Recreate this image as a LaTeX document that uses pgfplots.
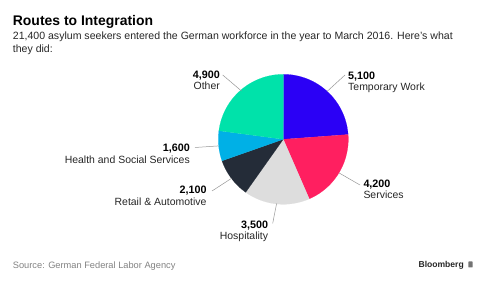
\documentclass[border=0pt]{standalone}
\usepackage{pgfplots}
\pgfplotsset{compat=1.18}
\usepackage{fontspec}
\setmainfont{Liberation Sans}
\definecolor{cTemp}{RGB}{43,0,245}
\definecolor{cServ}{RGB}{255,31,96}
\definecolor{cHosp}{RGB}{221,221,221}
\definecolor{cRet}{RGB}{36,44,56}
\definecolor{cHealth}{RGB}{0,176,230}
\definecolor{cOther}{RGB}{0,226,170}
\definecolor{leader}{RGB}{150,150,150}
\definecolor{srcgray}{RGB}{130,130,130}
\begin{document}
\begin{tikzpicture}
% values (clockwise from 12 o'clock)
\def\vTemp{5100}\def\vServ{4200}\def\vHosp{3500}\def\vRet{2100}\def\vHealth{1600}\def\vOther{4900}
\pgfmathsetmacro\tot{(\vTemp+\vServ+\vHosp)/100+(\vRet+\vHealth+\vOther)/100}
\pgfmathsetmacro\aA{90}
\pgfmathsetmacro\aB{\aA-(\vTemp/100)/\tot*360}
\pgfmathsetmacro\aC{\aB-(\vServ/100)/\tot*360}
\pgfmathsetmacro\aD{\aC-(\vHosp/100)/\tot*360}
\pgfmathsetmacro\aE{\aD-(\vRet/100)/\tot*360}
\pgfmathsetmacro\aF{\aE-(\vHealth/100)/\tot*360}
\pgfmathsetmacro\aG{\aF-(\vOther/100)/\tot*360}
\def\cx{283.3}\def\cy{143.7}\def\r{65}
\path[use as bounding box] (0,0) rectangle (488bp,283bp);
\begin{axis}[at={(0,0)},anchor=south west, width=488bp, height=283bp, scale only axis,
  xmin=0,xmax=488,ymin=0,ymax=283, hide axis, clip=false]
\addplot[fill=cTemp, draw=cTemp, line width=0.1pt, domain=\aB:\aA, samples=60, variable=\t] ({\cx+\r*cos(\t)},{\cy+\r*sin(\t)}) -- (axis cs:\cx,\cy) -- cycle;
\addplot[fill=cServ, draw=cServ, line width=0.1pt, domain=\aC:\aB, samples=60, variable=\t] ({\cx+\r*cos(\t)},{\cy+\r*sin(\t)}) -- (axis cs:\cx,\cy) -- cycle;
\addplot[fill=cHosp, draw=cHosp, line width=0.1pt, domain=\aD:\aC, samples=60, variable=\t] ({\cx+\r*cos(\t)},{\cy+\r*sin(\t)}) -- (axis cs:\cx,\cy) -- cycle;
\addplot[fill=cRet, draw=cRet, line width=0.1pt, domain=\aE:\aD, samples=60, variable=\t] ({\cx+\r*cos(\t)},{\cy+\r*sin(\t)}) -- (axis cs:\cx,\cy) -- cycle;
\addplot[fill=cHealth, draw=cHealth, line width=0.1pt, domain=\aF:\aE, samples=60, variable=\t] ({\cx+\r*cos(\t)},{\cy+\r*sin(\t)}) -- (axis cs:\cx,\cy) -- cycle;
\addplot[fill=cOther, draw=cOther, line width=0.1pt, domain=\aG:\aF, samples=60, variable=\t] ({\cx+\r*cos(\t)},{\cy+\r*sin(\t)}) -- (axis cs:\cx,\cy) -- cycle;
% leader lines
\draw[leader, line width=0.5pt] (axis cs:222.7,208) -- (axis cs:241.5,192);
\draw[leader, line width=0.5pt] (axis cs:327,191.5) -- (axis cs:345,208);
\draw[leader, line width=0.5pt] (axis cs:339,110.1) -- (axis cs:360,98);
\draw[leader, line width=0.5pt] (axis cs:276.6,79.5) -- (axis cs:272.7,59.7);
\draw[leader, line width=0.5pt] (axis cs:231.4,104.6) -- (axis cs:212,92);
\draw[leader, line width=0.5pt] (axis cs:218.6,137.1) -- (axis cs:195,135.5);
% labels
\tikzset{num/.style={inner sep=0pt, font=\bfseries\fontsize{10.8}{12}\selectfont, text=black},
         lab/.style={inner sep=0pt, font=\fontsize{10.5}{12}\selectfont, text={black!85}}}
\node[num, anchor=base east] at (axis cs:220,204.7) {4,900};
\node[lab, anchor=base east] at (axis cs:220,193.7) {Other};
\node[num, anchor=base west] at (axis cs:348,203.7) {5,100};
\node[lab, anchor=base west] at (axis cs:348,192) {Temporary Work};
\node[num, anchor=base west] at (axis cs:363.3,95.7) {4,200};
\node[lab, anchor=base west] at (axis cs:363.3,84.3) {Services};
\node[num, anchor=base east] at (axis cs:268.3,54.7) {3,500};
\node[lab, anchor=base east] at (axis cs:268.3,43) {Hospitality};
\node[num, anchor=base east] at (axis cs:206.7,89) {2,100};
\node[lab, anchor=base east] at (axis cs:206.7,77) {Retail \& Automotive};
\node[num, anchor=base east] at (axis cs:190,131.7) {1,600};
\node[lab, anchor=base east] at (axis cs:190,119.7) {Health and Social Services};
% titles
\node[inner sep=0pt, anchor=base west, font=\bfseries\fontsize{14}{16}\selectfont] at (axis cs:12.7,257) {Routes to Integration};
\node[inner sep=0pt, anchor=base west, font=\fontsize{10.6}{12}\selectfont, text={black!85}] at (axis cs:12.7,243.5) {21,400 asylum seekers entered the German workforce in the year to March 2016. Here's what};
\node[inner sep=0pt, anchor=base west, font=\fontsize{10.6}{12}\selectfont, text={black!85}] at (axis cs:12.7,230.3) {they did:};
\node[inner sep=0pt, anchor=base west, font=\fontsize{9.3}{11}\selectfont, text=srcgray] at (axis cs:12.7,14.7) {Source: German Federal Labor Agency};
\node[inner sep=0pt, anchor=base east, font=\bfseries\fontsize{8.6}{10}\selectfont, text={black!85}] at (axis cs:464,15.3) {Bloomberg};
\fill[black!55, rounded corners=0.6pt] (axis cs:468.3,15.5) rectangle (axis cs:472.7,21.5);
\end{axis}
\end{tikzpicture}
\end{document}
